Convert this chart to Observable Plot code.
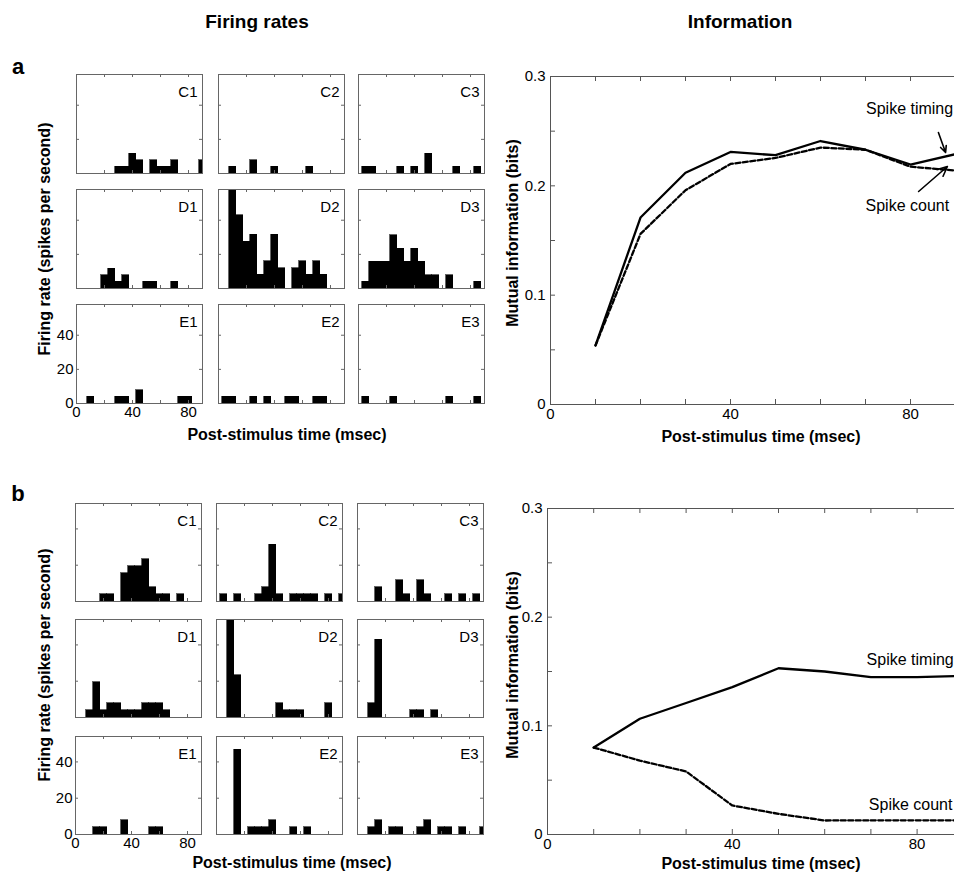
<!DOCTYPE html>
<html><head><meta charset="utf-8">
<script src="https://cdn.jsdelivr.net/npm/d3@7"></script>
<script src="https://cdn.jsdelivr.net/npm/@observablehq/plot@0.6"></script>
<style>
html,body{margin:0;padding:0;background:#fff;overflow:hidden;}
#root{position:relative;width:954px;height:873px;overflow:hidden;font-family:"Liberation Sans",Arial,sans-serif;color:#000;background:#fff;}
.slot{position:absolute;}
.lab{position:absolute;white-space:nowrap;font-weight:bold;line-height:1;transform:translate(-50%,-50%);}
.rot{transform:translate(-50%,-50%) rotate(-90deg);}
</style></head><body><div id="root"></div>
<script>
// ---------- data ----------
const binCenters = [5,10,15,20,25,30,35,40,45,50,55,60,65,70,75,80,85,90]; // msec, 5-ms bins
const panelNames = [["C1","C2","C3"],["D1","D2","D3"],["E1","E2","E3"]];

// firing rates (spikes per second), panel a
const aC1 = [0,0,0,0,0,3.9,3.9,11.7,7.8,0,7.8,3.9,3.9,7.8,0,0,0,7.8];
const aC2 = [0,3.9,0,0,7.8,0,0,3.9,0,0,0,0,3.9,0,0,0,0,0];
const aC3 = [3.9,3.9,0,0,0,3.9,0,3.9,0,11.7,0,0,0,3.9,0,0,3.9,0];
const aD1 = [0,0,0,7.8,11.7,3.9,7.8,0,0,3.9,3.9,0,0,3.9,0,0,0,0];
const aD2 = [0,62,43,27.5,31.5,8,16,31.5,12,0,12,16,8,16,8,0,0,0];
const aD3 = [3.9,15.6,15.6,15.6,31.2,23.4,15.6,23.4,15.6,7.8,7.8,0,7.8,0,0,0,3.9,0];
const aE1 = [0,3.9,0,0,0,3.9,3.9,0,7.8,0,0,0,0,0,3.9,3.9,0,0];
const aE2 = [3.9,3.9,0,0,3.9,0,3.9,0,0,3.9,3.9,0,0,3.9,3.9,0,0,0];
const aE3 = [3.9,0,0,0,3.9,0,0,0,0,0,0,0,3.9,0,0,0,3.9,0];

// firing rates (spikes per second), panel b
const bC1 = [0,0,0,3.9,3.9,0,15.6,19.5,19.5,23.4,7.8,3.9,3.9,0,3.9,0,0,0];
const bC2 = [3.9,0,3.9,0,0,3.9,7.8,31.2,3.9,0,3.9,3.9,3.9,3.9,0,3.9,0,3.9];
const bC3 = [0,0,7.8,0,0,11.7,3.9,0,11.7,3.9,0,0,3.9,0,3.9,0,3.9,0];
const bD1 = [0,3.9,19.5,3.9,7.8,7.8,3.9,3.9,3.9,7.8,7.8,7.8,3.9,0,0,0,0,0];
const bD2 = [0,60,23.4,0,0,0,0,0,7.8,3.9,3.9,3.9,0,0,0,7.8,0,0];
const bD3 = [0,7.8,42.9,0,0,0,0,3.9,3.9,0,3.9,0,0,0,0,0,0,0];
const bE1 = [0,0,3.9,3.9,0,0,7.8,0,0,0,3.9,3.9,0,0,0,0,0,0];
const bE2 = [0,0,46.8,0,3.9,3.9,3.9,7.8,0,0,3.9,0,3.9,0,0,0,0,0];
const bE3 = [0,3.9,7.8,0,3.9,3.9,0,0,3.9,7.8,0,3.9,3.9,0,3.9,0,0,3.9];

// histogram axis ticks
const histXTicks = [0,20,40,60,80];
const histXLabels = [0,40,80];
const histYTicks = [20,40];
const histYLabels = [0,20,40];

// mutual information (bits)
const infoTime = [10,20,30,40,50,60,70,80,90];
const aTiming = [0.054,0.171,0.212,0.231,0.228,0.241,0.233,0.2195,0.229];
const aCount  = [0.054,0.156,0.196,0.220,0.2255,0.235,0.233,0.2175,0.214];
const bTiming = [0.080,0.1065,0.121,0.1356,0.153,0.150,0.1448,0.1448,0.146];
const bCount  = [0.080,0.068,0.058,0.0267,0.019,0.0129,0.013,0.013,0.013];

const infoXTicks = [10,20,30,40,50,60,70,80,90];
const infoXLabels = [0,40,80];
const infoYTicks = [0.05,0.1,0.15,0.2,0.25];
const infoYLabels = [0,0.1,0.2,0.3];

// curve annotations (data units)
const aLabels = [{x:79.8,y:0.270,text:"Spike timing"},{x:79.3,y:0.182,text:"Spike count"}];
const aArrows = [{x1:86.2,y1:0.2488,x2:87.8,y2:0.2305},{x1:81.8,y1:0.1948,x2:88.2,y2:0.2177}];
const bLabels = [{x:78.5,y:0.161,text:"Spike timing"},{x:78.6,y:0.0276,text:"Spike count"}];

// ---------- layout ----------
const root = document.getElementById("root");
const FONT = '"Liberation Sans", Arial, sans-serif';

function place(node, left, top) {
  const d = document.createElement("div");
  d.className = "slot";
  d.style.left = left + "px";
  d.style.top = top + "px";
  d.appendChild(node);
  root.appendChild(d);
}
function label(text, cx, cy, size, rotate, weight) {
  const d = document.createElement("div");
  d.className = "lab" + (rotate ? " rot" : "");
  d.style.left = cx + "px";
  d.style.top = cy + "px";
  d.style.fontSize = size + "px";
  d.style.fontWeight = weight || "bold";
  d.textContent = text;
  root.appendChild(d);
}

function histPanel(vals, name, yMax, W, H, showAxes) {
  const data = binCenters.map((t, i) => ({t, r: vals[i]})).filter(d => d.r > 0);
  const mL = 30, mR = 4, mT = 4, mB = 26;
  return Plot.plot({
    width: W + mL + mR, height: H + mT + mB,
    marginLeft: mL, marginRight: mR, marginTop: mT, marginBottom: mB,
    style: {background: "transparent", overflow: "visible", fontFamily: FONT, fontSize: "15px", color: "#000", maxWidth: "none"},
    x: {domain: [0, 90], ticks: histXLabels, tickSize: 0, tickPadding: 3, label: null, axis: showAxes ? "bottom" : null},
    y: {domain: [0, yMax], ticks: histYLabels, tickSize: 0, tickPadding: 3, label: null, axis: showAxes ? "left" : null},
    marks: [
      Plot.rect(data, {x1: d => d.t - 2.5, x2: d => d.t + 2.5, y1: 0, y2: "r", fill: "#000", stroke: "#000", strokeWidth: 0.6, inset: 0, clip: true, shapeRendering: "crispEdges"}),
      Plot.tickX(histXTicks, {x: d => d, insetTop: H - 3, stroke: "#666"}),
      Plot.tickX(histXTicks, {x: d => d, insetBottom: H - 3, stroke: "#666"}),
      Plot.tickY(histYTicks, {y: d => d, insetRight: W - 3, stroke: "#666"}),
      Plot.tickY(histYTicks, {y: d => d, insetLeft: W - 3, stroke: "#666"}),
      Plot.frame({stroke: "#666", strokeWidth: 1}),
      Plot.text([name], {text: d => d, frameAnchor: "top-right", dx: -5, dy: 12, fontSize: 15, fill: "#000"})
    ]
  });
}

function histGrid(arrays, cols, rows, W, H, yMax) {
  for (let r = 0; r < 3; r++) {
    for (let c = 0; c < 3; c++) {
      const p = histPanel(arrays[r][c], panelNames[r][c], yMax, W, H, r === 2 && c === 0);
      place(p, cols[c] - 30, rows[r] - 4);
    }
  }
}

function infoPanel(timing, count, labels, arrows, left, top, pxPerMs, H) {
  const W = 100 * pxPerMs;
  const mL = 50, mR = 10, mT = 10, mB = 30;
  const tim = infoTime.map((t, i) => ({t, v: timing[i]}));
  const cnt = infoTime.map((t, i) => ({t, v: count[i]}));
  const p = Plot.plot({
    width: W + mL + mR, height: H + mT + mB,
    marginLeft: mL, marginRight: mR, marginTop: mT, marginBottom: mB,
    style: {background: "transparent", overflow: "visible", fontFamily: FONT, fontSize: "15px", color: "#000", maxWidth: "none"},
    x: {domain: [0, 100], ticks: infoXLabels, tickSize: 0, tickPadding: 4, label: null},
    y: {domain: [0, 0.3], ticks: infoYLabels, tickSize: 0, tickPadding: 5, label: null, tickFormat: d => d === 0 ? "0" : String(d)},
    marks: [
      Plot.tickX(infoXTicks, {x: d => d, insetTop: H - 5, stroke: "#555"}),
      Plot.tickX(infoXTicks, {x: d => d, insetBottom: H - 5, stroke: "#555"}),
      Plot.tickY(infoYTicks, {y: d => d, insetRight: W - 5, stroke: "#555"}),
      Plot.tickY(infoYTicks, {y: d => d, insetLeft: W - 5, stroke: "#555"}),
      Plot.frame({stroke: "#555", strokeWidth: 1}),
      Plot.line(cnt, {x: "t", y: "v", stroke: "#000", strokeWidth: 2.3, strokeDasharray: "5,2.5"}),
      Plot.line(tim, {x: "t", y: "v", stroke: "#000", strokeWidth: 2.3}),
      Plot.text(labels, {x: "x", y: "y", text: "text", fontSize: 16, fill: "#000"}),
      Plot.arrow(arrows, {x1: "x1", y1: "y1", x2: "x2", y2: "y2", stroke: "#000", strokeWidth: 1.6, headLength: 10, headAngle: 50})
    ]
  });
  place(p, left - mL, top - mT);
}

// titles
label("Firing rates", 257, 21, 19, false);
label("Information", 740, 21, 19, false);
label("a", 18, 67, 22, false);
label("b", 18, 494, 22, false);

// panel a
histGrid([[aC1,aC2,aC3],[aD1,aD2,aD3],[aE1,aE2,aE3]], [76, 218, 358], [74, 188.5, 304], 126, 99, 58);
label("Firing rate (spikes per second)", 45, 238.5, 16, true);
label("Post-stimulus time (msec)", 287, 435, 16, false);
infoPanel(aTiming, aCount, aLabels, aArrows, 550, 76, 4.5, 328);
label("Mutual information (bits)", 513, 233, 16, true);
label("Post-stimulus time (msec)", 761, 437, 16, false);

// panel b
histGrid([[bC1,bC2,bC3],[bD1,bD2,bD3],[bE1,bE2,bE3]], [75, 216, 357], [502.5, 619, 735.5], 126, 98, 54);
label("Firing rate (spikes per second)", 45, 665, 16, true);
label("Post-stimulus time (msec)", 292, 862.5, 16, false);
infoPanel(bTiming, bCount, bLabels, [], 547, 508, 4.62, 326);
label("Mutual information (bits)", 513, 665, 16, true);
label("Post-stimulus time (msec)", 761, 864, 16, false);
</script>
</body></html>
